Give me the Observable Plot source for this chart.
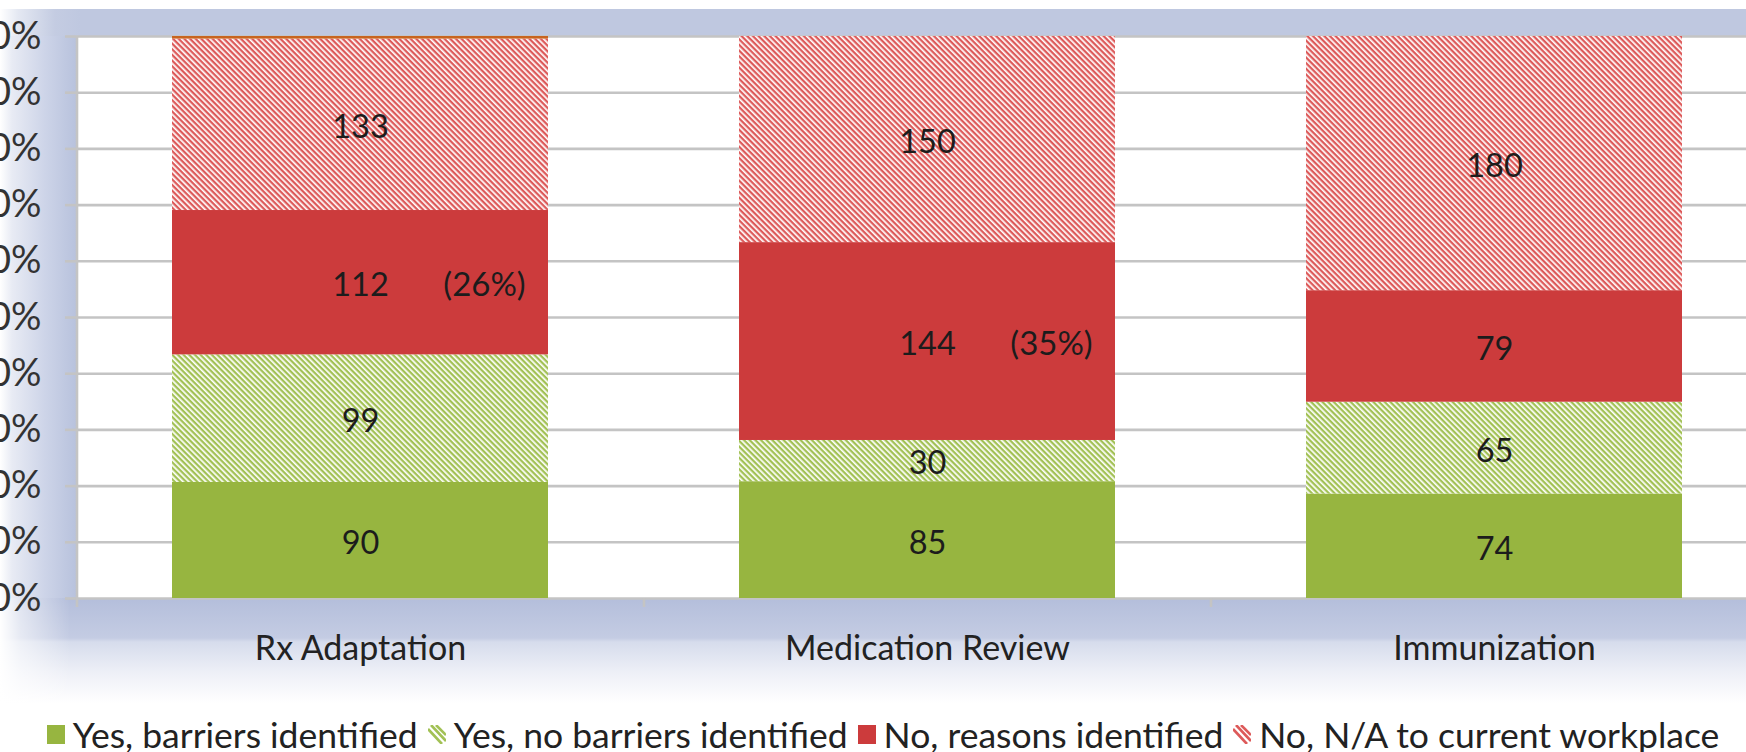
<!DOCTYPE html>
<html>
<head>
<meta charset="utf-8">
<script src="https://cdn.jsdelivr.net/npm/d3@7"></script>
<script src="https://cdn.jsdelivr.net/npm/@observablehq/plot@0.6"></script>
<style>
  html, body { margin: 0; padding: 0; background: #ffffff; overflow: hidden; }
  #wrap { position: relative; width: 1746px; height: 752px; font-family: Lato, "Open Sans", sans-serif; color: #222; }
  .bg { position: absolute; }
  #topband { left: 0; top: 9px; width: 1746px; height: 27px;
    background: linear-gradient(to right, #ffffff 0px, #e4e8f2 18px, #c4cce2 55px, #bfc8e0 80px, #bfc8e0 100%); }
  #wall { left: 0; top: 36px; width: 76px; height: 562px;
    background: linear-gradient(to right, #ffffff 0px, #e8ebf4 12px, #cdd4e8 45px, #b8c2dd 76px); }
  #floor { left: 0; top: 598px; width: 1746px; height: 110px;
    background: linear-gradient(to bottom, #b4bedb 0px, #c4cce3 40px, #d6dcec 44px, #eef0f7 75px, #ffffff 105px); }
  #floorfade { left: 0; top: 598px; width: 70px; height: 110px;
    background: linear-gradient(to right, #ffffff 0px, rgba(255,255,255,0.6) 20px, rgba(255,255,255,0) 70px); }
  #chart { position: absolute; left: 0; top: 0; }
  #legend { position: absolute; left: 0; top: 714px; width: 1746px; height: 40px;
    display: flex; justify-content: center; align-items: center; font-size: 35.5px; color: #222;
    padding-left: 30px; box-sizing: border-box; white-space: nowrap; }
  .item { display: flex; align-items: center; margin-right: 10px; }
  .item svg { margin-right: 8px; display: block; }
</style>
</head>
<body>
<div id="wrap">
  <div class="bg" id="topband"></div>
  <div class="bg" id="wall"></div>
  <div class="bg" id="floor"></div>
  <div class="bg" id="floorfade"></div>
  <div id="chart"></div>
  <div id="legend"></div>
</div>
<script>
// ---- data ----
const categories = ["Rx Adaptation", "Medication Review", "Immunization"];
const seriesNames = [
  "Yes, barriers identified",
  "Yes, no barriers identified",
  "No, reasons identified",
  "No, N/A to current workplace"
];
const yesBarriers   = [90, 85, 74];
const yesNoBarriers = [99, 30, 65];
const noReasons     = [112, 144, 79];
const noNA          = [133, 150, 180];
const unlabeledTop  = [2, 0, 0];          // thin orange sliver atop Rx Adaptation (no legend entry)
const percentNoted  = ["Rx Adaptation", "Medication Review"];
const yTicks = [0, 0.1, 0.2, 0.3, 0.4, 0.5, 0.6, 0.7, 0.8, 0.9, 1];

const stackSeries = [...seriesNames, "Unlabeled"];
const seriesColors = ["#97b540", "url(#hatchGreen)", "#cc3b3c", "url(#hatchRed)", "#c8641e"];

const rows = [];
categories.forEach((c, i) => {
  const vals = [yesBarriers[i], yesNoBarriers[i], noReasons[i], noNA[i], unlabeledTop[i]];
  const total = d3.sum(vals);
  vals.forEach((v, j) => rows.push({category: c, series: stackSeries[j], value: v, total}));
});

const xRange = [76, 1777];
const step = (xRange[1] - xRange[0]) / categories.length;
const gridColor = "#c4c4c4";

const chart = Plot.plot({
  width: 1746,
  height: 712,
  marginLeft: 76,
  marginRight: 0,
  marginTop: 36,
  marginBottom: 114,
  style: {background: "transparent", fontFamily: "Lato, 'Open Sans', sans-serif", color: "#222", overflow: "hidden"},
  x: {domain: categories, range: xRange, paddingInner: 0.337, paddingOuter: 0.1685, label: null},
  y: {domain: [0, 1], range: [598, 36], label: null},
  color: {domain: stackSeries, range: seriesColors},
  marks: [
    Plot.frame({fill: "white", stroke: "none"}),
    Plot.gridY({ticks: yTicks, stroke: gridColor, strokeOpacity: 1, strokeWidth: 2.6}),
    Plot.axisY({ticks: yTicks, tickFormat: d => Math.round(d * 100) + "%", tickSize: 11, tickPadding: 24,
                stroke: gridColor, strokeWidth: 2.6, fill: "#333", fontSize: 38}),
    Plot.ruleX(categories, {x: d => d, dx: -step / 2, y1: -0.016, y2: 0, stroke: gridColor, strokeWidth: 2.6}),
    Plot.ruleX([categories[0]], {x: d => d, dx: -step / 2, y1: 0, y2: 1, stroke: gridColor, strokeWidth: 2.6}),
    Plot.axisX({tickSize: 0, tickPadding: 37, fontSize: 34, fill: "#222"}),
    Plot.barY(rows, {x: "category", y: "value", fill: "series", offset: "normalize"}),
    Plot.text(rows, Plot.stackY({
      x: "category", y: "value", offset: "normalize",
      text: d => d.series === "Unlabeled" ? "" : String(d.value),
      dy: 3, fontSize: 32.5, fill: "#1c1c1c"
    })),
    Plot.text(rows, Plot.stackY({
      x: "category", y: "value", offset: "normalize",
      text: d => (d.series === seriesNames[2] && percentNoted.includes(d.category))
        ? "(" + Math.round(100 * d.value / d.total) + "%)" : "",
      dx: 124, dy: 3, fontSize: 33, fill: "#1c1c1c"
    }))
  ]
});

const defs = `
<defs>
  <pattern id="hatchGreen" patternUnits="userSpaceOnUse" width="4" height="4" patternTransform="rotate(45)">
    <rect width="4" height="4" fill="#ffffff"/>
    <rect width="4" height="2.3" fill="#a2c155"/>
  </pattern>
  <pattern id="hatchRed" patternUnits="userSpaceOnUse" width="4" height="4" patternTransform="rotate(45)">
    <rect width="4" height="4" fill="#ffffff"/>
    <rect width="4" height="2.3" fill="#dd5a5a"/>
  </pattern>
</defs>`;
chart.insertAdjacentHTML("afterbegin", defs);
document.getElementById("chart").appendChild(chart);

// ---- legend ----
const legendSwatch = [
  `<svg width="18" height="19"><rect width="18" height="19" fill="#97b540"/></svg>`,
  `<svg width="18" height="19"><g stroke="#a2c155" stroke-width="2.6"><line x1="0" y1="4" x2="14" y2="19"/><line x1="3" y1="0" x2="18" y2="16"/><line x1="8" y1="0" x2="18" y2="10"/></g></svg>`,
  `<svg width="18" height="19"><rect width="18" height="19" fill="#cc3b3c"/></svg>`,
  `<svg width="18" height="19"><g stroke="#dd5a5a" stroke-width="2.6"><line x1="0" y1="4" x2="14" y2="19"/><line x1="3" y1="0" x2="18" y2="16"/><line x1="8" y1="0" x2="18" y2="10"/></g></svg>`
];
const legend = document.getElementById("legend");
seriesNames.forEach((name, i) => {
  const item = document.createElement("div");
  item.className = "item";
  item.innerHTML = legendSwatch[i] + `<span>${name}</span>`;
  legend.appendChild(item);
});
</script>
</body>
</html>
